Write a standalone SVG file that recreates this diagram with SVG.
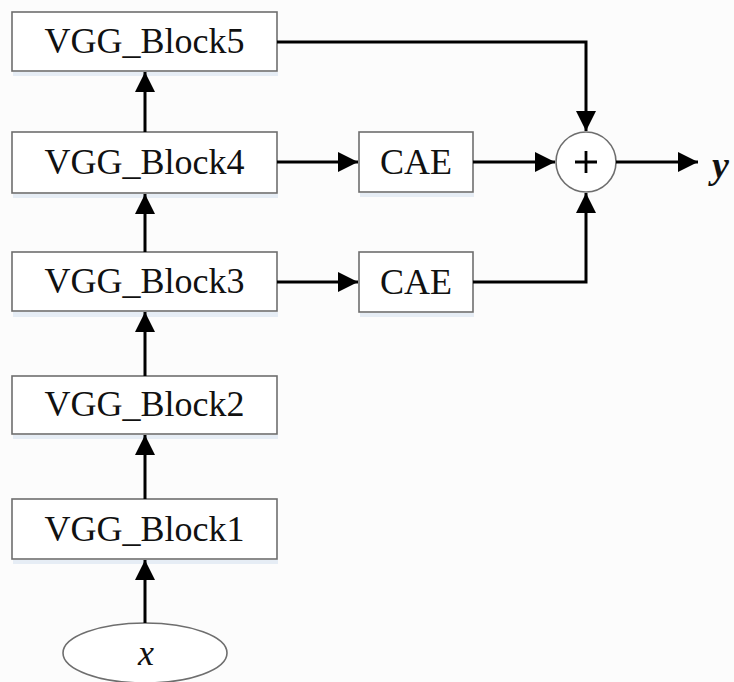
<svg xmlns="http://www.w3.org/2000/svg" width="734" height="682" viewBox="0 0 734 682">
  <defs>
    <marker id="arrow" viewBox="0 0 20 20" refX="20" refY="10" markerWidth="20" markerHeight="20" markerUnits="userSpaceOnUse" orient="auto">
      <path d="M0,0 L20,10 L0,20 Z" fill="#000"/>
    </marker>
  </defs>
  <style>
    .box { fill: #ffffff; stroke: #6e6e6e; stroke-width: 1.6; }
    .shadow { fill: #e6edf5; }
    .label { font-family: "Liberation Serif", "Times New Roman", serif; font-size: 36px; fill: #111; text-anchor: middle; }
    .wire { fill: none; stroke: #000; stroke-width: 3; marker-end: url(#arrow); }
  </style>
  <rect width="734" height="682" fill="#fcfcfc"/>

  <g id="vgg_block5">
    <rect class="shadow" x="13" y="72" width="265" height="4"/>
    <rect class="box" x="12" y="12" width="265" height="59"/>
    <text class="label" x="144.5" y="53">VGG_Block5</text>
  </g>
  <g id="vgg_block4">
    <rect class="shadow" x="13" y="194" width="265" height="4"/>
    <rect class="box" x="12" y="132" width="265" height="61"/>
    <text class="label" x="144.5" y="174">VGG_Block4</text>
  </g>
  <g id="vgg_block3">
    <rect class="shadow" x="13" y="312" width="265" height="5"/>
    <rect class="box" x="12" y="252" width="265" height="59"/>
    <text class="label" x="144.5" y="293">VGG_Block3</text>
  </g>
  <g id="vgg_block2">
    <rect class="shadow" x="13" y="435" width="265" height="4"/>
    <rect class="box" x="12" y="376" width="265" height="58"/>
    <text class="label" x="144.5" y="416">VGG_Block2</text>
  </g>
  <g id="vgg_block1">
    <rect class="shadow" x="13" y="560" width="265" height="4"/>
    <rect class="box" x="12" y="499" width="265" height="60"/>
    <text class="label" x="144.5" y="541">VGG_Block1</text>
  </g>
  <g id="input_x">
    <ellipse class="box" cx="145" cy="653" rx="82" ry="30"/>
    <text class="label" x="146" y="665" font-style="italic" font-size="42">x</text>
  </g>
  <g id="cae_upper">
    <rect class="shadow" x="360" y="193" width="114" height="4"/>
    <rect class="box" x="359" y="132" width="114" height="60"/>
    <text class="label" x="416" y="174">CAE</text>
  </g>
  <g id="cae_lower">
    <rect class="shadow" x="360" y="313" width="114" height="4"/>
    <rect class="box" x="359" y="252" width="114" height="60"/>
    <text class="label" x="416" y="294">CAE</text>
  </g>
  <g id="sum">
    <circle class="box" cx="586" cy="162" r="30"/>
    <path d="M575,162 H597 M586,151 V173" stroke="#000" stroke-width="2.8" fill="none"/>
  </g>
  <g id="output_y">
    <text x="712" y="178" font-family="Liberation Serif, Times New Roman, serif" font-size="38" font-style="italic" font-weight="bold" fill="#111">y</text>
  </g>

  <g id="connectors">
    <path class="wire" d="M145,623 V560"/>
    <path class="wire" d="M145,499 V435"/>
    <path class="wire" d="M145,376 V312"/>
    <path class="wire" d="M145,252 V194"/>
    <path class="wire" d="M145,132 V72"/>
    <path class="wire" d="M277,162 H358"/>
    <path class="wire" d="M277,282 H358"/>
    <path class="wire" d="M473,162 H555"/>
    <path class="wire" d="M277,42 H586 V131"/>
    <path class="wire" d="M473,282 H586 V193"/>
    <path class="wire" d="M616,162 H698"/>
  </g>
</svg>
